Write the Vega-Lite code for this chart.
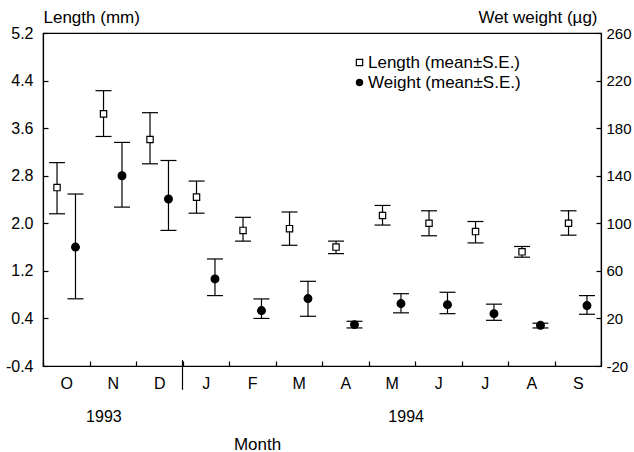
{
  "$schema": "https://vega.github.io/schema/vega-lite/v6.json",
  "width": 558,
  "height": 333,
  "autosize": {"type": "none"},
  "padding": {"left": 43, "top": 33, "right": 33, "bottom": 86},
  "background": "white",
  "config": {
    "font": "Liberation Sans",
    "view": {"stroke": "black", "strokeWidth": 1.2},
    "axis": {
      "grid": false,
      "domainColor": "black",
      "tickColor": "black",
      "labelColor": "black",
      "titleColor": "black",
      "labelFont": "Liberation Sans",
      "titleFont": "Liberation Sans",
      "labelFontSize": 16,
      "titleFontSize": 17,
      "titleFontWeight": "normal",
      "domainWidth": 1.2,
      "tickWidth": 1.2
    }
  },
  "datasets": {
    "length": [
      {"month": "Oct", "series": "Length (mean±S.E.)", "mean": 2.60, "lo": 2.16, "hi": 3.02},
      {"month": "Nov", "series": "Length (mean±S.E.)", "mean": 3.84, "lo": 3.46, "hi": 4.23},
      {"month": "Dec", "series": "Length (mean±S.E.)", "mean": 3.41, "lo": 3.00, "hi": 3.86},
      {"month": "Jan", "series": "Length (mean±S.E.)", "mean": 2.44, "lo": 2.17, "hi": 2.71},
      {"month": "Feb", "series": "Length (mean±S.E.)", "mean": 1.88, "lo": 1.70, "hi": 2.10},
      {"month": "Mar", "series": "Length (mean±S.E.)", "mean": 1.91, "lo": 1.63, "hi": 2.19},
      {"month": "Apr", "series": "Length (mean±S.E.)", "mean": 1.60, "lo": 1.49, "hi": 1.70},
      {"month": "May", "series": "Length (mean±S.E.)", "mean": 2.13, "lo": 1.97, "hi": 2.30},
      {"month": "Jun", "series": "Length (mean±S.E.)", "mean": 2.00, "lo": 1.79, "hi": 2.21},
      {"month": "Jul", "series": "Length (mean±S.E.)", "mean": 1.86, "lo": 1.67, "hi": 2.03},
      {"month": "Aug", "series": "Length (mean±S.E.)", "mean": 1.52, "lo": 1.43, "hi": 1.61},
      {"month": "Sep", "series": "Length (mean±S.E.)", "mean": 2.00, "lo": 1.80, "hi": 2.21}
    ],
    "weight": [
      {"month": "Oct", "series": "Weight (mean±S.E.)", "mean": 80.0, "lo": 36.5, "hi": 124.6},
      {"month": "Nov", "series": "Weight (mean±S.E.)", "mean": 140.0, "lo": 113.6, "hi": 168.0},
      {"month": "Dec", "series": "Weight (mean±S.E.)", "mean": 120.4, "lo": 94.0, "hi": 152.8},
      {"month": "Jan", "series": "Weight (mean±S.E.)", "mean": 53.2, "lo": 39.2, "hi": 70.0},
      {"month": "Feb", "series": "Weight (mean±S.E.)", "mean": 26.6, "lo": 20.0, "hi": 36.4},
      {"month": "Mar", "series": "Weight (mean±S.E.)", "mean": 36.7, "lo": 21.8, "hi": 51.2},
      {"month": "Apr", "series": "Weight (mean±S.E.)", "mean": 14.8, "lo": 12.0, "hi": 17.6},
      {"month": "May", "series": "Weight (mean±S.E.)", "mean": 32.5, "lo": 24.7, "hi": 40.8},
      {"month": "Jun", "series": "Weight (mean±S.E.)", "mean": 31.6, "lo": 24.0, "hi": 42.0},
      {"month": "Jul", "series": "Weight (mean±S.E.)", "mean": 24.0, "lo": 18.4, "hi": 32.0},
      {"month": "Aug", "series": "Weight (mean±S.E.)", "mean": 14.2, "lo": 12.0, "hi": 16.0},
      {"month": "Sep", "series": "Weight (mean±S.E.)", "mean": 30.8, "lo": 23.5, "hi": 39.2}
    ],
    "year1993": [{"year": "1993", "month": "Nov"}],
    "year1994": [{"year": "1994", "month": "May"}],
    "divider": [{"month": "Jan"}]
  },
  "layer": [
    {
      "data": {"name": "length"},
      "layer": [
        {
          "mark": {"type": "rule", "color": "black", "strokeWidth": 1.2},
          "encoding": {
            "x": {"field": "month", "type": "nominal", "title": "Month",
              "sort": ["Oct","Nov","Dec","Jan","Feb","Mar","Apr","May","Jun","Jul","Aug","Sep"],
              "scale": {"paddingInner": 0, "paddingOuter": 0},
              "axis": {"labelExpr": "substring(datum.label, 0, 1)", "labelAngle": 0, "tickBand": "extent", "tickSize": -5, "labelPadding": 14,
                "titleX": 214, "titleY": 83, "titleAlign": "center", "titleBaseline": "alphabetic", "titleAnchor": null}},
            "xOffset": {"field": "series", "type": "nominal", "scale": {"paddingInner": 0, "paddingOuter": 0.26}},
            "y": {"field": "lo", "type": "quantitative", "title": "Length (mm)",
              "scale": {"domain": [-0.4, 5.2], "nice": false, "zero": false},
              "axis": {"orient": "left", "values": [-0.4, 0.4, 1.2, 2.0, 2.8, 3.6, 4.4, 5.2], "format": ".1f", "labelExpr": "replace(datum.label, '−', '-')", "tickSize": -5, "labelPadding": 15,
                "titleAngle": 0, "titleX": 0, "titleY": -11, "titleAlign": "left", "titleBaseline": "alphabetic", "titleAnchor": null}},
            "y2": {"field": "hi"}
          }
        },
        {
          "mark": {"type": "tick", "color": "black", "size": 16, "thickness": 1.2, "opacity": 1},
          "encoding": {
            "x": {"field": "month", "type": "nominal", "title": "Month", "sort": ["Oct","Nov","Dec","Jan","Feb","Mar","Apr","May","Jun","Jul","Aug","Sep"]},
            "xOffset": {"field": "series", "type": "nominal"},
            "y": {"field": "lo", "type": "quantitative", "title": "Length (mm)"}
          }
        },
        {
          "mark": {"type": "tick", "color": "black", "size": 16, "thickness": 1.2, "opacity": 1},
          "encoding": {
            "x": {"field": "month", "type": "nominal", "title": "Month", "sort": ["Oct","Nov","Dec","Jan","Feb","Mar","Apr","May","Jun","Jul","Aug","Sep"]},
            "xOffset": {"field": "series", "type": "nominal"},
            "y": {"field": "hi", "type": "quantitative", "title": "Length (mm)"}
          }
        },
        {
          "mark": {"type": "point", "stroke": "black", "strokeWidth": 1.2, "size": 40, "opacity": 1},
          "encoding": {
            "x": {"field": "month", "type": "nominal", "title": "Month", "sort": ["Oct","Nov","Dec","Jan","Feb","Mar","Apr","May","Jun","Jul","Aug","Sep"]},
            "xOffset": {"field": "series", "type": "nominal"},
            "y": {"field": "mean", "type": "quantitative", "title": "Length (mm)"},
            "fill": {"field": "series", "type": "nominal",
              "scale": {"domain": ["Length (mean±S.E.)", "Weight (mean±S.E.)"], "range": ["white", "black"]},
              "legend": {"orient": "none", "legendX": 308, "legendY": 21, "title": null, "labelFontSize": 17, "labelFont": "Liberation Sans", "labelColor": "black", "symbolSize": 40, "symbolStrokeColor": "black", "symbolStrokeWidth": 1.2, "rowPadding": 2, "labelOffset": 0,
                "symbolOpacity": 1, "symbolFillColor": "white",
                "encode": {"symbols": {"update": {"stroke": {"value": "black"}, "strokeWidth": {"value": 1.2}, "opacity": {"value": 1}}}}}},
            "shape": {"field": "series", "type": "nominal",
              "scale": {"domain": ["Length (mean±S.E.)", "Weight (mean±S.E.)"], "range": ["square", "circle"]},
              "legend": {"orient": "none", "legendX": 308, "legendY": 21, "title": null, "labelFontSize": 17, "labelFont": "Liberation Sans", "labelColor": "black", "symbolSize": 40, "symbolStrokeColor": "black", "symbolStrokeWidth": 1.2, "rowPadding": 2, "labelOffset": 0,
                "symbolOpacity": 1, "symbolFillColor": "white",
                "encode": {"symbols": {"update": {"stroke": {"value": "black"}, "strokeWidth": {"value": 1.2}, "opacity": {"value": 1}}}}}}
          }
        }
      ]
    },
    {
      "data": {"name": "divider"},
      "mark": {"type": "rule", "color": "black", "strokeWidth": 1.2},
      "encoding": {
        "x": {"field": "month", "type": "nominal", "bandPosition": 0, "title": "Month", "sort": ["Oct","Nov","Dec","Jan","Feb","Mar","Apr","May","Jun","Jul","Aug","Sep"]},
        "y": {"datum": -0.3, "type": "quantitative", "scale": {"domain": [-0.4, 5.2], "nice": false, "zero": false}, "axis": null},
        "y2": {"datum": -0.8}
      }
    },
    {
      "data": {"name": "year1993"},
      "mark": {"type": "text", "fontSize": 16, "font": "Liberation Sans", "color": "black", "baseline": "alphabetic", "align": "center"},
      "encoding": {
        "x": {"field": "month", "type": "nominal", "bandPosition": 0.31, "title": "Month", "sort": ["Oct","Nov","Dec","Jan","Feb","Mar","Apr","May","Jun","Jul","Aug","Sep"]},
        "y": {"datum": -1.35, "type": "quantitative", "scale": {"domain": [-0.4, 5.2], "nice": false, "zero": false}, "axis": null},
        "text": {"field": "year", "type": "nominal"}
      }
    },
    {
      "data": {"name": "year1994"},
      "mark": {"type": "text", "fontSize": 16, "font": "Liberation Sans", "color": "black", "baseline": "alphabetic", "align": "center"},
      "encoding": {
        "x": {"field": "month", "type": "nominal", "bandPosition": 0.81, "title": "Month", "sort": ["Oct","Nov","Dec","Jan","Feb","Mar","Apr","May","Jun","Jul","Aug","Sep"]},
        "y": {"datum": -1.35, "type": "quantitative", "scale": {"domain": [-0.4, 5.2], "nice": false, "zero": false}, "axis": null},
        "text": {"field": "year", "type": "nominal"}
      }
    },
    {
      "data": {"name": "weight"},
      "layer": [
        {
          "mark": {"type": "rule", "color": "black", "strokeWidth": 1.2},
          "encoding": {
            "x": {"field": "month", "type": "nominal", "title": "Month", "sort": ["Oct","Nov","Dec","Jan","Feb","Mar","Apr","May","Jun","Jul","Aug","Sep"]},
            "xOffset": {"field": "series", "type": "nominal"},
            "y": {"field": "lo", "type": "quantitative", "title": "Wet weight (µg)",
              "scale": {"domain": [-20, 260], "nice": false, "zero": false},
              "axis": {"orient": "right", "values": [-20, 20, 60, 100, 140, 180, 220, 260], "labelExpr": "replace(datum.label, '−', '-')", "tickSize": -5, "labelPadding": 10, "labelFontSize": 15,
                "titleAngle": 0, "titleX": -4, "titleY": -11, "titleAlign": "right", "titleBaseline": "alphabetic", "titleAnchor": null}},
            "y2": {"field": "hi"}
          }
        },
        {
          "mark": {"type": "tick", "color": "black", "size": 16, "thickness": 1.2, "opacity": 1},
          "encoding": {
            "x": {"field": "month", "type": "nominal", "title": "Month", "sort": ["Oct","Nov","Dec","Jan","Feb","Mar","Apr","May","Jun","Jul","Aug","Sep"]},
            "xOffset": {"field": "series", "type": "nominal"},
            "y": {"field": "lo", "type": "quantitative", "title": "Wet weight (µg)"}
          }
        },
        {
          "mark": {"type": "tick", "color": "black", "size": 16, "thickness": 1.2, "opacity": 1},
          "encoding": {
            "x": {"field": "month", "type": "nominal", "title": "Month", "sort": ["Oct","Nov","Dec","Jan","Feb","Mar","Apr","May","Jun","Jul","Aug","Sep"]},
            "xOffset": {"field": "series", "type": "nominal"},
            "y": {"field": "hi", "type": "quantitative", "title": "Wet weight (µg)"}
          }
        },
        {
          "mark": {"type": "point", "stroke": "black", "strokeWidth": 1.2, "size": 60, "opacity": 1},
          "encoding": {
            "x": {"field": "month", "type": "nominal", "title": "Month", "sort": ["Oct","Nov","Dec","Jan","Feb","Mar","Apr","May","Jun","Jul","Aug","Sep"]},
            "xOffset": {"field": "series", "type": "nominal"},
            "y": {"field": "mean", "type": "quantitative", "title": "Wet weight (µg)"},
            "fill": {"field": "series", "type": "nominal"},
            "shape": {"field": "series", "type": "nominal"}
          }
        }
      ]
    }
  ],
  "resolve": {"scale": {"y": "independent"}, "axis": {"y": "independent"}}
}
